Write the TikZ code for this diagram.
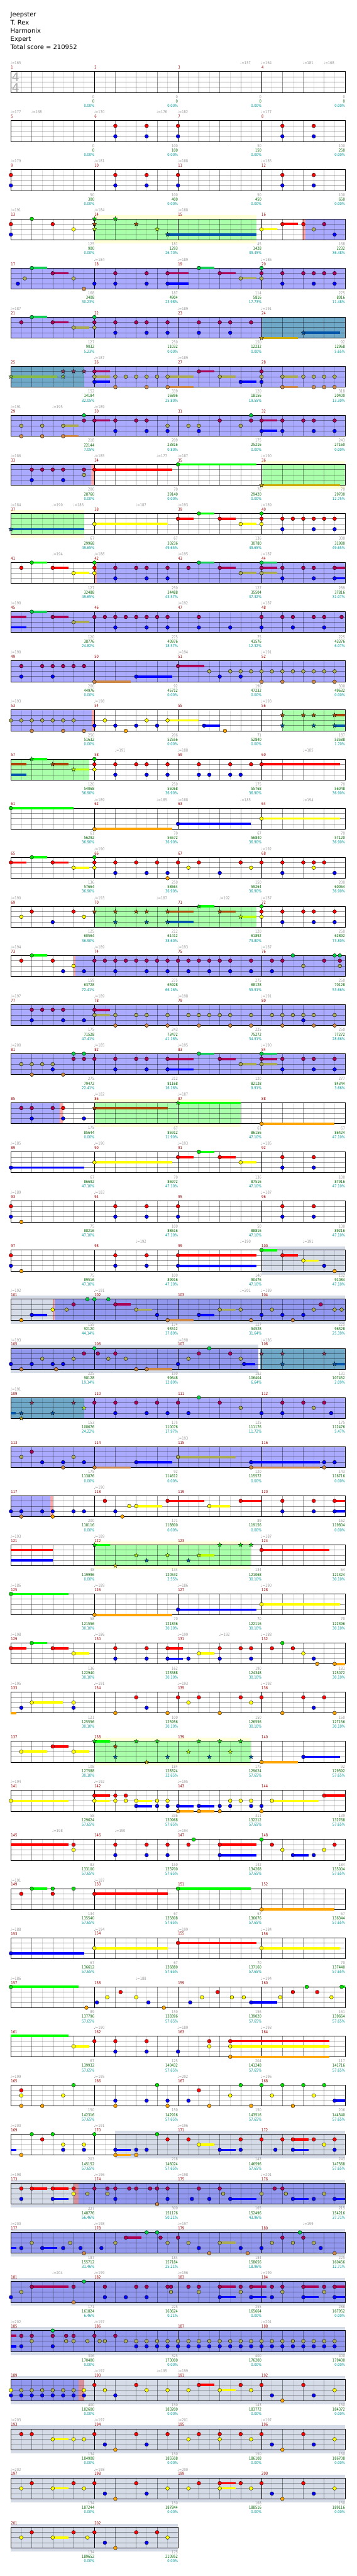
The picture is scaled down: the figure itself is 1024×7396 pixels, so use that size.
\documentclass[tikz,border=0pt]{standalone}
\usepackage{fontspec}
\setmainfont{DejaVu Sans}
\newfontfamily\smallf{DejaVu Sans}[FakeStretch=0.82]
\newcommand{\sm}{\smallf\fontsize{11.5}{13}\selectfont}

% regions
\definecolor{odblue}{HTML}{AAAAFF}
\definecolor{spgreen}{HTML}{AAFFAA}
\definecolor{spband}{HTML}{FFFFD8}
\definecolor{tealod}{HTML}{70A8C8}
\definecolor{solo}{HTML}{D5DCE8}
\definecolor{odsolo}{HTML}{9198EE}
\definecolor{actred}{HTML}{FFAAAA}
\definecolor{actsolo}{HTML}{D8909A}
% notes
\definecolor{nG}{HTML}{00E000}
\definecolor{gG}{HTML}{00FF00}
\definecolor{nR}{HTML}{FF0000}
\definecolor{nY}{HTML}{FFFF00}
\definecolor{nB}{HTML}{0000FF}
\definecolor{nO}{HTML}{FFA500}
\definecolor{oG}{HTML}{00CC44}
\definecolor{oGs}{HTML}{11CC55}
\definecolor{oR}{HTML}{AA0055}
\definecolor{oY}{HTML}{AAAA55}
\definecolor{oO}{HTML}{CC8844}
\definecolor{sG}{HTML}{00DD00}
\definecolor{sR}{HTML}{AA4400}
\definecolor{sY}{HTML}{BBFF00}
\definecolor{sB}{HTML}{0055AA}
\definecolor{sO}{HTML}{CCAA00}
\definecolor{tR}{HTML}{993355}
\definecolor{tY}{HTML}{88BB44}
% texts
\definecolor{tgray}{HTML}{999999}
\definecolor{tgreen}{HTML}{006600}
\definecolor{tcyan}{HTML}{009999}
\definecolor{tred}{HTML}{990000}

\tikzset{
  notedot/.style={draw=black,line width=0.7pt},
  halfline/.style={black,draw opacity=0.13,line width=1pt},
  beatline/.style={black,draw opacity=0.4,line width=1pt},
  laneline/.style={black,draw opacity=0.4,line width=1.2pt},
  barline/.style={black,line width=1pt},
  frame/.style={black,line width=1.5pt},
  mnum/.style={anchor=west,inner sep=0pt,text=tred,font=\sm},
  tempo/.style={anchor=west,inner sep=0pt,text=tgray,font=\sm},
  sca/.style={anchor=east,inner sep=0pt,text=tgray,font=\sm},
  scb/.style={anchor=east,inner sep=0pt,text=tgreen,font=\sm},
  scc/.style={anchor=east,inner sep=0pt,text=tcyan,font=\sm},
  titlef/.style={anchor=base west,inner sep=0pt,font=\fontsize{18}{20}\selectfont},
  starnote/.pic={\draw[line width=0.5pt,fill=#1] (-90:6.5) -- (-54:2.7) -- (-18:6.5) -- (18:2.7)
    -- (54:6.5) -- (90:2.7) -- (126:6.5) -- (162:2.7) -- (198:6.5) -- (234:2.7) -- cycle;}
}

% one row of the chart: x in eighths from the row start, lanes 0..4
\newcommand{\rowat}[1]{\def\rowno{#1}\pgfmathsetmacro\rowy{205.3+141*(#1-1)}}
\newcommand{\fillreg}[3]{\fill[#1] ({31.3+30*#2},\rowy) rectangle ({31.3+30*#3},{\rowy+60});}
\newcommand{\fillband}[3]{\fill[#1] ({31.3+30*#2},{\rowy-10}) rectangle ({31.3+30*#3},{\rowy+70});}
\newcommand{\sust}[3]{\foreach \a/\b in {#3}{\fill[#1] ({31.3+30*\a},{\rowy+15*#2-3.3}) rectangle ({31.3+30*\b},{\rowy+15*#2+3.3});}}
\newcommand{\notesat}[3]{\foreach \e in {#3}{\draw[notedot,fill=#1] ({31.3+30*\e},{\rowy+15*#2}) circle[radius=5.3];}}
\newcommand{\starsat}[3]{\foreach \e in {#3}{\pic at ({31.3+30*\e},{\rowy+15*#2}) {starnote=#1};}}
\newcommand{\gridrow}[1]{%
  \pgfmathsetmacro\rowxr{31.3+30*#1}%
  \pgfmathtruncatemacro\nmeas{#1/8}%
  \foreach \k in {1,3,...,#1}{\draw[halfline] ({31.3+30*\k},\rowy) -- ++(0,60);}
  \foreach \k in {2,4,...,#1}{\draw[beatline] ({31.3+30*\k},\rowy) -- ++(0,60);}
  \foreach \l in {15,30,45}{\draw[laneline] (31.3,{\rowy+\l}) -- (\rowxr,{\rowy+\l});}
  \foreach \k in {8,16,...,#1}{\draw[barline] ({31.3+30*\k},\rowy) -- ++(0,60);}
  \draw[frame] (31.3,\rowy) rectangle (\rowxr,{\rowy+60});
  \foreach \j in {1,...,\nmeas}{%
    \pgfmathtruncatemacro\mnr{4*(\rowno-1)+\j}%
    \node[mnum] (m\mnr) at ({31.3+240*(\j-1)},{\rowy-11.5}) {\mnr};}
}
\newcommand{\tempos}[1]{\foreach \e/\v [count=\j] in {#1}{%
  \node[tempo] (t\rowno-\j) at ({31.3+30*\e-1.5},{\rowy-24}) {♩=\v};}}
\newcommand{\scores}[1]{\foreach \a/\b/\c [count=\j] in {#1}{%
  \node[sca] (sa\rowno-\j) at ({31.3+240*\j},{\rowy+72.5}) {\a};
  \node[scb] (sb\rowno-\j) at ({31.3+240*\j},{\rowy+85.5}) {\b};
  \node[scc] (sc\rowno-\j) at ({31.3+240*\j},{\rowy+98.5}) {\c\%};}}

\begin{document}
\begin{tikzpicture}[x=1pt,y=-1pt]
\useasboundingbox (0,0) rectangle (1024,7396);
\fill[white] (0,0) rectangle (1024,7396);
\node[titlef] (song) at (30,48.3) {Jeepster};
\node[titlef] (artist) at (30,71.5) {T. Rex};
\node[titlef] (charter) at (30,94.7) {Harmonix};
\node[titlef] (level) at (30,117.9) {Expert};
\node[titlef] (total) at (30,141.1) {Total score = 210952};

% m1-4
\rowat{1}\gridrow{32}
\node[text=black!33,inner sep=0pt,font=\fontsize{34}{34}\selectfont] (tsa) at (44.7,221) {4};
\node[text=black!33,inner sep=0pt,font=\fontsize{34}{34}\selectfont] (tsb) at (44.7,252) {4};
\tempos{0/165,22/157,24/164,28/181,30/168}
\scores{0/0/0.00,0/0/0.00,0/0/0.00,0/0/0.00}
% m5-8
\rowat{2}\gridrow{32}
\notesat{nR}{1}{10,13,16,26,29}\notesat{nB}{3}{10,13,16,26,29}
\tempos{0/177,2/168,8/170,14/176,16/182,24/177}
\scores{0/0/0.00,100/100/0.00,50/150/0.00,100/250/0.00}
% m9-12
\rowat{3}\gridrow{32}
\notesat{nR}{1}{0,10,13,16,26,29}\notesat{nB}{3}{0,10,13,16,26,29}
\tempos{0/179,8/181,16/188,24/185}
\scores{50/300/0.00,100/400/0.00,50/450/0.00,100/650/0.00}
% m13-16
\rowat{4}\fillband{spband}{8}{23.5}\fillreg{spgreen}{8}{23.5}\fillreg{actred}{27.9}{28.2}\fillreg{odblue}{28.2}{32}
\gridrow{32}
\sust{sB}{3}{15/23.5}\sust{nY}{2}{24/25.5}\sust{nR}{1}{26/27.5}
\notesat{nG}{0}{2}\notesat{nR}{1}{0,4,26,28}\notesat{nY}{2}{6,24}\notesat{nB}{3}{0,31}
\starsat{sG}{0}{8,10}\starsat{sR}{1}{8,12}\starsat{sY}{2}{8,14}\starsat{sB}{3}{15}
\notesat{oY}{2}{29}\notesat{oR}{1}{30}
\tempos{0/191,8/184,16/188}
\scores{125/900/0.00,181/1293/26.70,45/1428/39.45,168/2232/36.48}
% m17-20
\rowat{5}\fillreg{odblue}{0}{32}\gridrow{32}
\sust{oGs}{0}{2/3.46,18/19.5}\sust{oR}{1}{4/5.5,15/17,20/21.5}\sust{nB}{3}{15/17}\sust{oY}{2}{22/23.5}
\notesat{oG}{0}{2,18,24}\notesat{oR}{1}{4,10,13,15,20,24,26,28,29,30,31}\notesat{oY}{2}{1.33,6,22,24}
\notesat{nB}{3}{0.67,8,10,13,15,26,29,31}\notesat{oO}{4}{7}
\tempos{8/184,16/189,24/186}
\scores{168/3408/30.23,187/4904/23.98,114/5816/17.73,275/8016/11.48}
% m21-24
\rowat{6}\fillreg{odblue}{0}{24}\fillreg{tealod}{24}{32}\gridrow{32}
\sust{oGs}{0}{2/3.5}\sust{oR}{1}{4/5.5}\sust{oY}{2}{6/7.5}\sust{sO}{4}{24/27.5}\sust{sB}{3}{28/31.5}
\notesat{oG}{0}{2,8}\notesat{oR}{1}{1,4,8,10,12,13,15,18,20,21,23}\notesat{oY}{2}{6,8}\notesat{nB}{3}{10,13,15,18,21}
\starsat{sO}{4}{24}\starsat{sB}{3}{28}
\tempos{0/187,16/189,24/191}
\scores{127/9032/5.23,250/11032/0.00,150/12232/0.00,92/12968/5.65}
% m25-28
\rowat{7}\fillreg{tealod}{0}{7}\fillreg{odblue}{7}{32}\gridrow{32}
\sust{tY}{2}{0/4.46}\sust{oR}{1}{8/9.5,18/19.5}\sust{oY}{2}{8/9.5,15/17.5,20/21.5,26/27.5}
\sust{nB}{3}{8/9.5,22/23.5}\sust{oO}{4}{15/17.5,26/27.5}
\starsat{tY}{2}{0,5}\starsat{tR}{1}{5,6,7}
\notesat{oR}{1}{8,18,24}\notesat{oY}{2}{8,10,11,12,13,14,15,20,24,26,28,29,30,31}
\notesat{nB}{3}{8,22,24}\notesat{oO}{4}{10,13,15,26,29,30,31}
\tempos{8/187,16/189}
\scores{152/14184/32.05,339/16896/25.80,120/18156/19.55,318/20400/13.30}
% m29-32
\rowat{8}\fillreg{odblue}{0}{32}\gridrow{32}
\sust{oY}{2}{5/6.46}\sust{oO}{4}{5/6.5}\sust{oR}{1}{8/9.5,24/25.5}\sust{nB}{3}{24/25.5}
\notesat{oY}{2}{1,3,5,15,17,18,22}\notesat{oO}{4}{1,3,5}\notesat{oG}{0}{7,23}
\notesat{oR}{1}{7,8,10,12,13,20,23,24,26,28,29,31}\notesat{nB}{3}{10,13,15,18,24,26,29,31}
\tempos{0/191,4/195,8/189}
\scores{218/22144/7.05,209/23816/0.80,175/25216/0.00,243/27160/0.00}
% m33-36
\rowat{9}\fillreg{odblue}{0}{7.68}\fillreg{actred}{7.68}{8}\fillband{spband}{24}{32}\fillreg{spgreen}{24}{32}\gridrow{32}
\sust{nR}{1}{8/15.45}\sust{gG}{0}{16/23.5}\sust{sO}{4}{24/31.5}
\notesat{oR}{1}{2,3,4,5,7}\notesat{nB}{3}{2,5}\notesat{oY}{2}{7}\notesat{nR}{1}{8}\notesat{nG}{0}{16}
\starsat{sO}{4}{24}
\tempos{0/186,8/185,14/177,16/187,24/190}
\scores{200/28760/0.00,70/29140/0.00,70/29420/0.00,70/29700/12.75}
% m37-40
\rowat{10}\fillband{spband}{0}{7}\fillreg{spgreen}{0}{7}\gridrow{32}
\sust{sB}{3}{0/7}\sust{nY}{2}{8/15,22/23.5}\sust{nR}{1}{16/17.5,20/21.5}\sust{gG}{0}{18/19.5}
\starsat{sB}{3}{0}
\notesat{nY}{2}{8,22,24}\notesat{nR}{1}{16,20,24,26,27,28,29,30,31}\notesat{nG}{0}{18,24}\notesat{nB}{3}{26,29,31}
\tempos{0/184,4/190,6/186,12/187,16/193,24/189}
\scores{67/29968/49.65,67/30236/49.65,136/30780/49.65,300/31980/49.65}
% m41-44
\rowat{11}\fillreg{actred}{8}{8.2}\fillreg{odblue}{8.2}{32}\gridrow{32}
\sust{gG}{0}{2/3.5}\sust{nR}{1}{4/5.5}\sust{nY}{2}{6/7.5}\sust{oGs}{0}{18/19.5,24/25.5}
\sust{oR}{1}{20/21.5,24/25.5,31/32}\sust{oY}{2}{22/23.5,24/25.5}\sust{nB}{3}{31/32}
\notesat{nR}{1}{1,4,8}\notesat{nG}{0}{2,8}\notesat{nY}{2}{6,8}
\notesat{oR}{1}{10,12,13,15,17,20,24,26,28,29,31}\notesat{nB}{3}{10,13,15,26,29,31}
\notesat{oG}{0}{18,24}\notesat{oY}{2}{22,24}
\tempos{4/194,8/188,16/195,24/187}
\scores{127/32488/49.65,250/34488/43.57,127/35504/37.32,289/37816/31.07}
% m45-48
\rowat{12}\fillreg{odblue}{0}{32}\gridrow{32}
\sust{oR}{1}{0/1.5,4/5.5}\sust{nB}{3}{0/1.5}\sust{oGs}{0}{2/3.5}\sust{oY}{2}{6/7.5}
\notesat{oG}{0}{2}\notesat{oR}{1}{4,8,9,10,11,12,13,14,15,18,24,26,27,29,30,31.67}\notesat{oY}{2}{6}
\notesat{nB}{3}{10,13,15,18,21,24,27,30}
\tempos{0/190,16/192,24/187}
\scores{120/38776/24.82,275/40976/18.57,75/41576/12.32,225/43376/6.07}
% m49-52
\rowat{13}\fillreg{odblue}{0}{32}\gridrow{32}
\sust{oO}{4}{8/11.5}\sust{nB}{3}{12/15.45}\sust{oR}{1}{16/18.5}
\notesat{oR}{1}{1,3,4,5,6,7,16}\notesat{nB}{3}{1,4,12,20,22}\notesat{oO}{4}{8,24,26,29,31}
\notesat{oY}{2}{19,21,22,23,24,25,26,27,28,29,30,31}
\tempos{0/190,16/194,24/191}
\scores{200/44976/0.00,92/45712/0.00,190/47232/0.00,300/49632/0.00}
% m53-56
\rowat{14}\fillreg{odblue}{0}{7.73}\fillreg{actred}{7.73}{8}\fillreg{spgreen}{26}{32}\gridrow{32}
\sust{nY}{2}{15/18}\sust{nB}{3}{18.5/20}\sust{sR}{1}{31/32}\sust{sB}{3}{31/32}
\notesat{oY}{2}{0,1,2,3,4,5,6}\notesat{oO}{4}{2,5,7}\notesat{nB}{3}{8,10,12,14,18.5}
\notesat{nY}{2}{9,13,15}\notesat{nO}{4}{11,20.5}
\starsat{sR}{1}{26,28,29,31}\starsat{sB}{3}{26,29,31}
\tempos{0/193,8/198,24/193}
\scores{250/51632/0.00,206/52556/0.00,71/52840/0.00,187/53588/1.70}
% m57-60
\rowat{15}\fillreg{spgreen}{0}{7.5}\gridrow{32}
\sust{sR}{1}{0/1.5,4/5.5}\sust{sB}{3}{0/1.5}\sust{gG}{0}{2/3.5}\sust{sY}{2}{6/7.5}\sust{nR}{1}{24/31.5}
\starsat{sG}{0}{2}\starsat{sR}{1}{4}\starsat{sY}{2}{6}
\notesat{nG}{0}{8}\notesat{nR}{1}{8,10,12,13,15,18,21,23,24}\notesat{nY}{2}{8}\notesat{nB}{3}{10,13,15,18,19,21,22}
\tempos{10/191,16/188,28/185}
\scores{120/54068/36.90,250/55068/36.90,175/55768/36.90,70/56048/36.90}
% m61-64
\rowat{16}\gridrow{32}
\sust{gG}{0}{0/6}\sust{nO}{4}{8/15.45}\sust{nB}{3}{16/23}\sust{nY}{2}{24/31.5}
\notesat{nG}{0}{0}\notesat{nO}{4}{8}\notesat{nB}{3}{16}\notesat{nY}{2}{24}
\tempos{8/189,14/185,16/188,22/185,28/194}
\scores{61/56292/36.90,70/56572/36.90,67/56840/36.90,70/57120/36.90}
% m65-68
\rowat{17}\gridrow{32}
\sust{nR}{1}{0/1.5,4/5.5}\sust{gG}{0}{2/3.5}\sust{nY}{2}{6/7.5}
\notesat{nR}{1}{0,4,8,10,12,14,16,18,22,24,26,28,29,30}\notesat{nG}{0}{2,8}\notesat{nY}{2}{6,8,17,23,29}
\notesat{nB}{3}{10,13,15,20,26,31}\notesat{nO}{4}{15}
\tempos{8/190,24/192}
\scores{136/57664/36.90,250/58664/36.90,150/59264/36.90,200/60064/36.90}
% m69-72
\rowat{18}\fillreg{spgreen}{8}{23.5}\gridrow{32}
\sust{sR}{1}{15/17.5,20/21.5}\sust{sB}{3}{15/17.5}\sust{gG}{0}{18/19.5}\sust{sY}{2}{22/23.5}
\notesat{nY}{2}{1,7,24}\notesat{nR}{1}{2,6,24,26,28,29,31}\notesat{nB}{3}{4,26,29,31}\notesat{nG}{0}{24}
\starsat{sR}{1}{8,10,12,13,15,20}\starsat{sB}{3}{10,13,15}\starsat{sG}{0}{18}\starsat{sY}{2}{22}
\tempos{0/190,8/193,14/187,20/192,24/187}
\scores{125/60564/36.90,212/61412/38.60,120/61892/73.80,250/62892/73.80}
% m73-76
\rowat{19}\fillreg{actred}{6}{6.2}\fillreg{odblue}{6.2}{32}\gridrow{32}
\sust{gG}{0}{2/3.5}
\notesat{nR}{1}{1,4}\notesat{nG}{0}{2}\notesat{nB}{3}{5,7,10,13,15,17,19,21,23,25}\notesat{nY}{2}{6}
\notesat{oR}{1}{8,9,10,11,12,13,14,15,16,17,18,19,20,21,23,25,26,30,31.5}
\notesat{oG}{0}{27,31,31.5}\notesat{oY}{2}{28,31.5}
\tempos{0/194,8/189,16/193,24/187}
\scores{159/63728/72.41,275/65928/66.16,275/68128/59.91,250/70128/53.66}
% m77-80
\rowat{20}\fillreg{odblue}{0}{32}\gridrow{32}
\sust{oR}{1}{8/9.5}\sust{oY}{2}{8/9.5}
\notesat{oR}{1}{2,3,4,5,8}\notesat{nB}{3}{2,5,7,28}
\notesat{oY}{2}{8,10,12,13,15,17,18,19,20,21,23,25,26,27,28,29,31}\notesat{oO}{4}{10,13,15,18,21,23,26,29,31}
\tempos{0/197,8/189,16/198,24/191}
\scores{175/71528/47.41,243/73472/41.16,225/75272/34.91,250/77272/28.66}
% m81-84
\rowat{21}\fillreg{odblue}{0}{32}\gridrow{32}
\sust{oR}{1}{15/17.5,20/21.5,24/25.5}\sust{nB}{3}{15/17.5}\sust{oGs}{0}{18/19.5,24/25.5}\sust{oY}{2}{22/23.5,24/25.5}
\notesat{oY}{2}{1,2,3,4,22,24}\notesat{oO}{4}{2,5}\notesat{nB}{3}{4,10,13,15,26,29,31}\notesat{oG}{0}{6,7,18,24}
\notesat{oR}{1}{6,7,8,10,12,13,15,20,24,26,28,29,31}
\tempos{0/200,8/185,16/195,24/190}
\scores{275/79472/22.41,212/81168/16.16,120/82128/9.91,277/84344/3.66}
% m85-88
\rowat{22}\fillreg{odblue}{0}{4.65}\fillreg{actred}{4.65}{5}\fillband{spband}{8}{22}\fillreg{spgreen}{8}{22}\gridrow{32}
\sust{sR}{1}{8/15}\sust{gG}{0}{16/22}\sust{nO}{4}{24/31}
\notesat{oR}{1}{1,2,4}\notesat{nR}{1}{5}\notesat{nB}{3}{2,5,7}\notesat{nO}{4}{24}
\starsat{sR}{1}{8}\starsat{sG}{0}{16}
\tempos{8/182,16/187}
\scores{175/85644/0.00,67/85912/11.90,61/86156/47.10,67/86424/47.10}
% m89-92
\rowat{23}\gridrow{32}
\sust{nB}{3}{0/7}\sust{nY}{2}{8/15.45,22/23.5}\sust{nR}{1}{16/17.5,20/21.5}\sust{gG}{0}{18/19.5}
\notesat{nB}{3}{0,26,29}\notesat{nY}{2}{8,22}\notesat{nR}{1}{16,20,26,29}\notesat{nG}{0}{18}
\tempos{0/185,8/190,16/193,24/185}
\scores{67/86692/47.10,70/86972/47.10,136/87516/47.10,100/87916/47.10}
% m93-96
\rowat{24}\gridrow{32}
\notesat{nR}{1}{0,10,13,16,26,29}\notesat{nB}{3}{0,10,13,16,26,29}\notesat{nO}{4}{1}
\tempos{0/189,8/183,24/187}
\scores{75/88216/47.10,100/88616/47.10,50/88816/47.10,100/89216/47.10}
% m97-100
\rowat{25}\fillband{solo}{24}{32}\gridrow{32}
\sust{nR}{1}{16/23.5,26/27.5}\sust{nB}{3}{16/23.5}\sust{gG}{0}{24/25.5}\sust{nY}{2}{28/29.5}
\notesat{nR}{1}{0,10,13,16,26}\notesat{nB}{3}{0,10,13,16,30}\notesat{nO}{4}{1,31}\notesat{nG}{0}{24}\notesat{nY}{2}{28}
\tempos{12/192,22/190,28/191}
\scores{75/89516/47.10,100/89916/47.10,140/90476/47.10,152/91084/47.10}
% m101-104
\rowat{26}\fillband{solo}{0}{32}\fillreg{actred}{4}{4.2}\fillreg{odsolo}{4.2}{32}\gridrow{32}
\sust{nB}{3}{2/3.46,18/19.5}\sust{oR}{1}{10/11.5}\sust{oY}{2}{12/13.5,20/21.5}\sust{oO}{4}{15/17.5}
\notesat{nO}{4}{1}\notesat{nB}{3}{2,14,18,24,26,28}\notesat{nY}{2}{4}
\notesat{oY}{2}{5.33,12,20,22,25,29,31,31.67}\notesat{oR}{1}{6,10,29.67}\notesat{oG}{0}{7.33,8,9.33}\notesat{oO}{4}{15,23,27}
\tempos{0/192,8/191,22/201,24/189}
\scores{159/92120/44.14,174/93512/37.89,127/94528/31.64,225/96328/25.39}
% m105-108
\rowat{27}\fillband{solo}{0}{23.7}\fillreg{odsolo}{0}{23.7}\fillreg{tealod}{23.85}{32}\gridrow{32}
\sust{oO}{4}{13/15.45}\sust{nB}{3}{22.33/23.4}\sust{sB}{3}{31/32}
\notesat{nB}{3}{0,2,4,5,16,22.33}\notesat{oO}{4}{1,4.33,12,13}\notesat{oY}{2}{3,6,9.33,11,17,22}
\notesat{oR}{1}{7,8.33,10,18,21}\notesat{oG}{0}{8,19}
\starsat{tR}{1}{24,26,30}\starsat{sB}{3}{26,31}
\tempos{0/193,16/198,24/186}
\scores{225/98128/19.14,190/99648/12.89,182/106404/6.64,131/107452/2.09}
% m109-112
\rowat{28}\fillreg{tealod}{0}{7}\fillreg{odblue}{7}{32}\gridrow{32}
\sust{sB}{3}{0/0.48}
\starsat{sB}{3}{1,4}\starsat{sO}{4}{1}\starsat{tR}{1}{2,6}\starsat{sY}{2}{7}
\notesat{oR}{1}{8,10,12,14,16,20,26,28,30}\notesat{nB}{3}{10,13,15,17,24,26,30.67}\notesat{oG}{0}{18}\notesat{oY}{2}{22,29}
\tempos{0/191}
\scores{153/108676/24.22,175/110076/17.97,125/111176/11.72,175/112476/5.47}
% m113-116
\rowat{29}\fillreg{odblue}{0}{32}\gridrow{32}
\sust{oO}{4}{8/11.5,23/29.6}\sust{nB}{3}{12/15.45,23/29.6}\sust{oY}{2}{16/21.5}
\notesat{oY}{2}{1,6,16}\notesat{oR}{1}{2}\notesat{nB}{3}{3,5,7,12,23,30,31}\notesat{oO}{4}{5,8,23,30}
\tempos{16/193}
\scores{175/113876/0.00,92/114612/0.00,120/115572/0.00,143/116716/0.00}
% m117-120
\rowat{30}\fillreg{odblue}{0}{3.75}\fillreg{actred}{3.75}{4}\gridrow{32}
\sust{nY}{2}{12/14.5,19/21}\sust{nR}{1}{15/18.5,22/24,31/32}\sust{nB}{3}{31/32}
\notesat{nB}{3}{0,1,3,4,6,7,10,26,29,31}\notesat{oO}{4}{1}\notesat{nO}{4}{4,10.67}
\notesat{nR}{1}{9,15,22,26,29,31}\notesat{nY}{2}{11.33,12,19}
\tempos{8/190}
\scores{200/118116/0.00,171/118800/0.00,89/119156/0.00,162/119804/0.00}
% m121-124
\rowat{31}\fillband{spband}{8}{23}\fillreg{spgreen}{8}{23}\gridrow{32}
\sust{nR}{1}{0/4,24/30.5}\sust{nB}{3}{0/4}\sust{gG}{0}{8/9.5}\sust{sY}{2}{18/19.5}
\starsat{sG}{0}{8,20,22,23}\starsat{sO}{4}{10}\starsat{sY}{2}{12,15,18}\starsat{sB}{3}{13,17}
\notesat{nR}{1}{24}
\tempos{0/193,8/189,24/187}
\scores{48/119996/0.00,134/120532/2.55,134/121068/30.10,64/121324/30.10}
% m125-128
\rowat{32}\gridrow{32}
\sust{gG}{0}{0/5.5}\sust{nO}{4}{8/15.45}\sust{nB}{3}{16/23.5}\sust{nY}{2}{24/31.5}
\notesat{nG}{0}{0}\notesat{nO}{4}{8}\notesat{nB}{3}{16}\notesat{nY}{2}{24}
\tempos{0/186,8/189,16/186,24/190}
\scores{58/121556/30.10,70/121836/30.10,70/122116/30.10,70/122396/30.10}
% m129-132
\rowat{33}\gridrow{32}
\sust{nR}{1}{0/1.46,4/5.5,15/16.5}\sust{gG}{0}{2/3.5}\sust{nY}{2}{6/7.5,18/19.5}\sust{nB}{3}{15/16.5}\sust{nO}{4}{31/32}
\notesat{nR}{1}{0,4,10,13,15,20,22,23,25,27}\notesat{nG}{0}{2,26}\notesat{nY}{2}{6,18,28}
\notesat{nB}{3}{10,13,15,17,20,23,29}\notesat{nO}{4}{29.33,31}
\tempos{0/198,8/186,16/199,20/192,24/188}
\scores{136/122940/30.10,162/123588/30.10,190/124348/30.10,181/125072/30.10}
% m133-136
\rowat{34}\gridrow{32}
\sust{nO}{4}{0/0.5}\sust{nY}{2}{2/5}
\notesat{nB}{3}{1,6,13,29}\notesat{nY}{2}{2,6,17,23}\notesat{nO}{4}{10,15,20,26,31}\notesat{nR}{1}{12,16,18,22,24,28,30}
\tempos{0/195,8/191,16/193,24/192}
\scores{121/125556/30.10,100/125956/30.10,150/126556/30.10,150/127156/30.10}
% m137-140
\rowat{35}\fillband{spband}{8}{23}\fillreg{spgreen}{8}{23}\gridrow{32}
\sust{nY}{2}{1/3.46,6/7.5}\sust{nR}{1}{4/5.5}\sust{gG}{0}{8/9.5}\sust{nO}{4}{24/27.5}\sust{nB}{3}{28/31.5}
\notesat{nY}{2}{1,6}\notesat{nR}{1}{4}
\starsat{sG}{0}{8,12,14,18,20,22}\starsat{sR}{1}{10}\starsat{sB}{3}{10,15,19,23}\starsat{sO}{4}{13}\starsat{sY}{2}{17,21}
\notesat{nO}{4}{24}\notesat{nB}{3}{28}
\scores{108/127588/30.10,184/128324/32.65,175/129024/57.65,92/129392/57.65}
% m141-144
\rowat{36}\gridrow{32}
\sust{nY}{2}{0/5.5,8/9.5,12/13.5,25/29.5}\sust{nR}{1}{8/9.5,30/32}\sust{nB}{3}{12/13.5,16/17.5,18/19.5}\sust{nO}{4}{16/17.5,18/19.5}
\notesat{nY}{2}{0,8,10,11,12,14,15,21,22,23,25}\notesat{nR}{1}{8,10,11,30}
\notesat{nB}{3}{12,14,15,16,18,20,21,23,24}\notesat{nO}{4}{16,18,20,24}
\tempos{0/194,8/192,16/195}
\scores{58/129624/57.65,336/130968/57.65,311/132212/57.65,139/132768/57.65}
% m145-148
\rowat{37}\gridrow{32}
\sust{nR}{1}{0/5.5,20/23.5}\sust{nB}{3}{20/23.5,27/28.5}
\notesat{nR}{1}{6,10,13,15,17,20,25,31}\notesat{nY}{2}{6,26,30}\notesat{nB}{3}{10,13,15,20,27,29}\notesat{nG}{0}{17.5,24}
\tempos{4/198,10/190,16/194}
\scores{83/133100/57.65,150/133700/57.65,142/134268/57.65,184/135004/57.65}
% m149-152
\rowat{38}\gridrow{32}
\sust{gG}{0}{2/3.5,16/23}\sust{nR}{1}{8/15}\sust{nO}{4}{24/31}
\notesat{nR}{1}{1,4,8}\notesat{nG}{0}{2,4,6,16}\notesat{nO}{4}{24}
\tempos{0/191,8/187}
\scores{134/135540/57.65,67/135808/57.65,67/136076/57.65,67/136344/57.65}
% m153-156
\rowat{39}\gridrow{32}
\sust{nB}{3}{0/7}\sust{nY}{2}{8/15,24/31.5}\sust{nR}{1}{16/23.5}
\notesat{nB}{3}{0}\notesat{nY}{2}{8,24}\notesat{nR}{1}{16}
\tempos{0/188,8/194,16/199,24/184}
\scores{67/136612/57.65,67/136880/57.65,70/137160/57.65,70/137440/57.65}
% m157-160
\rowat{40}\gridrow{32}
\sust{gG}{0}{0/6.5,31.67/32}\sust{nB}{3}{23/25.5}
\notesat{nG}{0}{0,28.33,31.67}\notesat{nO}{4}{7.23,14.65}\notesat{nB}{3}{8.23,13.17,17.17,23}
\notesat{nY}{2}{9.23,12,18.3,21.16,22.3,25.8,30.7}\notesat{nR}{1}{10.5,19.8,27,29.33}
\tempos{0/186,12/188,24/194}
\scores{89/137796/57.65,150/138396/57.65,156/139020/57.65,161/139664/57.65}
% m161-164
\rowat{41}\gridrow{32}
\sust{gG}{0}{0/5.5}\sust{nY}{2}{6/7.5,21/30.5}\sust{nR}{1}{21/30.5}\sust{nO}{4}{21/30.5}
\notesat{nY}{2}{6,19,21}\notesat{nR}{1}{8,10,13,19,21}\notesat{nB}{3}{10,13,16}\notesat{nO}{4}{21}
\tempos{8/190,16/189,24/193}
\scores{67/139932/57.65,125/140432/57.65,204/141248/57.65,117/141716/57.65}
% m165-168
\rowat{42}\gridrow{32}
\sust{nB}{3}{31/32}
\notesat{nR}{1}{1,18}\notesat{nY}{2}{1,5,21,25,29}\notesat{nO}{4}{1,3,10,15,19,23,27}
\notesat{nG}{0}{6,14,22,24,26,28,30}\notesat{nB}{3}{10,13,15,17,31}
\tempos{0/199,8/195,16/202,24/196}
\scores{150/142316/57.65,150/142916/57.65,150/143516/57.65,206/144340/57.65}
% m169-172
\rowat{43}\fillband{solo}{10}{32}\gridrow{32}
\sust{nB}{3}{0/0.5,10/11.5,20/21.5,27/28.5}\sust{nO}{4}{10/11.5}\sust{nY}{2}{18/19.5}\sust{nR}{1}{27/28.5}
\notesat{nO}{4}{1,10,12}\notesat{nG}{0}{2,4,8,14}\notesat{nR}{1}{3,15,17,22,24,26,27,29,31}
\notesat{nY}{2}{5,7,18,30}\notesat{nB}{3}{5,7,10,12,13,20,22,25.33,27,31}
\tempos{0/200,8/191,16/196}
\scores{203/145152/57.65,218/146024/57.65,143/146596/57.65,243/147568/57.65}
% m173-176
\rowat{44}\fillband{solo}{0}{32}\fillreg{actsolo}{6}{6.5}\fillreg{odsolo}{6.5}{32}\gridrow{32}
\sust{nR}{1}{2/3.5,4/5.5}\sust{nB}{3}{4/5.5,21/23.5,27/28.5,31/32}
\notesat{nR}{1}{1,2,4,6}\notesat{nB}{3}{1,4,10,15,17.33,19,21,27,29,31}\notesat{nY}{2}{6}
\notesat{oY}{2}{7.33,9.25,20.33,24,26.33,30}\notesat{oR}{1}{8,9.25,10,11.33,12,13.33,14,15,18,20,25.25,26}\notesat{oO}{4}{14}
\tempos{0/198,8/196,16/198,24/201}
\scores{227/148776/56.46,300/151176/50.21,165/152496/43.96,215/154216/37.71}
% m177-180
\rowat{45}\fillband{solo}{0}{32}\fillreg{odsolo}{0}{32}\gridrow{32}
\sust{nB}{3}{0/0.5,3/4.46}\sust{oR}{1}{11/12.5}\sust{oY}{2}{20/21.5}
\notesat{nB}{3}{1,3,5,6.67,8.67,18,22,24,29.67}\notesat{oY}{2}{2,5.67,10,15,17,20,25,27,29}
\notesat{oO}{4}{7,19,22.67,31}\notesat{oR}{1}{11,14.33,16,26,28}\notesat{oG}{0}{13,14,27.67}
\tempos{0/200,8/198,16/197,28/199}
\scores{187/155712/31.46,184/157184/25.21,184/158656/18.96,225/160456/12.71}
% m181-184
\rowat{46}\fillband{solo}{0}{32}\fillreg{odsolo}{0}{32}\gridrow{32}
\sust{oR}{1}{2/5.5,20/21.5,23/24.47,28/29.5,31/32}\sust{nB}{3}{20/21.5,23/24.47,28/29.5,31/32}
\notesat{nB}{3}{0,9,11,13,20,23,25,28,31}\notesat{oY}{2}{1,15.33,18,22,26,30}
\notesat{oR}{1}{2,6,9,12,13,15,15.33,17,18,20,22,23,25,26,28,30,31}\notesat{oO}{4}{6}\notesat{oG}{0}{7}
\tempos{4/204,8/199,16/196,24/199}
\scores{171/161824/6.46,225/163624/0.21,255/165664/0.00,286/167952/0.00}
% m185-188
\rowat{47}\fillband{solo}{0}{32}\fillreg{odsolo}{0}{32}\gridrow{32}
\sust{oR}{1}{0/0.5}\sust{nB}{3}{0/0.5}
\notesat{oR}{1}{1,2,4,5.29,6,8,10}\notesat{nB}{3}{1,4,12,13,...,31}\notesat{oG}{0}{4}
\notesat{oY}{2}{2,5.29,6,7.33,8.5,9,11,12,13,...,31}
\tempos{0/202,8/197,24/201}
\scores{306/170400/0.00,325/173000/0.00,400/176200/0.00,400/179400/0.00}
% m189-192
\rowat{48}\fillband{solo}{0}{32}\fillreg{odsolo}{0}{6.46}\fillreg{actsolo}{6.46}{7}\gridrow{32}
\sust{nR}{1}{18/19.5}\sust{nY}{2}{20/21.5}
\notesat{nY}{2}{0,7,9,13,15,17,20,23,31}\notesat{oY}{2}{1,2,3,4,5,6}\notesat{nB}{3}{0,1,2,3,4,5,6,7,10,25,29}
\notesat{nR}{1}{8,12,18,22,24,28}\notesat{nO}{4}{26}
\tempos{8/197,14/195,16/199}
\scores{400/182600/0.00,150/183200/0.00,143/183772/0.00,150/184372/0.00}
% m193-196
\rowat{49}\fillband{solo}{0}{32}\gridrow{32}
\sust{nY}{2}{4/5.5}
\notesat{nR}{1}{1,2,8,12,15,18,20,22,24,28}\notesat{nY}{2}{4,6,7,17,20,23,31}\notesat{nB}{3}{9,13,25,29}\notesat{nO}{4}{10,26}
\tempos{0/203,8/197,16/201,24/197}
\scores{134/184908/0.00,150/185508/0.00,150/186108/0.00,150/186708/0.00}
% m197-200
\rowat{50}\fillband{solo}{0}{32}\gridrow{32}
\sust{nY}{2}{4/5.5,20/21.5}\sust{nR}{1}{20/21.5}
\notesat{nY}{2}{1,4,7,15,17,20,23,31}\notesat{nR}{1}{2,6,8,12,18,20,22,24,28}\notesat{nB}{3}{9,13,25,29}\notesat{nO}{4}{10,26}
\tempos{0/202,8/198,16/200}
\scores{134/187244/0.00,150/187844/0.00,168/188516/0.00,150/189116/0.00}
% m201-202
\rowat{51}\fillband{solo}{0}{16}\gridrow{16}
\sust{nY}{2}{4/5.5}
\notesat{nY}{2}{1,4,7.33,15}\notesat{nR}{1}{2,6,8,12,14}\notesat{nB}{3}{9,13}\notesat{nO}{4}{10}
\scores{134/189652/0.00,175/210952/0.00}
\end{tikzpicture}
\end{document}
